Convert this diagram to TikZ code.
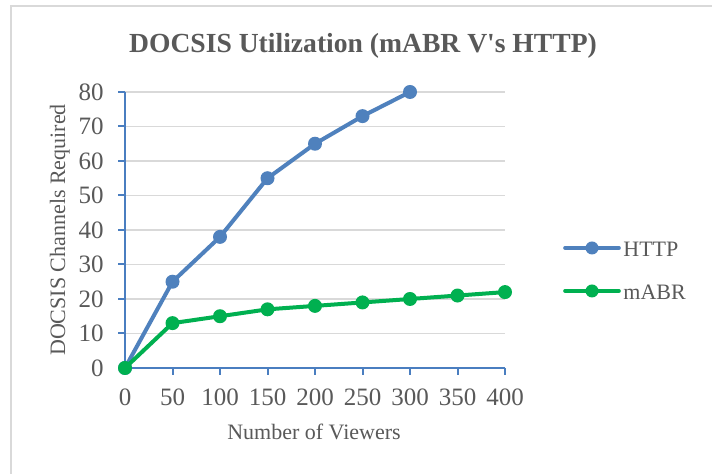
\documentclass[tikz,border=0pt]{standalone}
\usepackage{fontspec}
\setmainfont{Liberation Serif}[Ligatures=TeXOff]
\definecolor{httpblue}{HTML}{4F81BD}
\definecolor{mabrgreen}{HTML}{00B050}
\definecolor{axisblue}{HTML}{4A7EC0}
\definecolor{gridgrey}{HTML}{D9D9D9}
\definecolor{framegrey}{HTML}{D9D9D9}
\definecolor{textgrey}{HTML}{595959}
\begin{document}
\begin{tikzpicture}[x=0.5pt,y=-0.5pt,
  frameline/.style={draw=framegrey,line width=1.1pt},
  gridline/.style={draw=gridgrey,line width=0.75pt},
  axisline/.style={draw=axisblue,line width=1pt},
  ticklabel/.style={text=textgrey,font=\fontsize{12.5}{14}\selectfont,inner sep=0pt},
  axistitle/.style={text=textgrey,font=\fontsize{11}{13}\selectfont,inner sep=0pt},
  charttitle/.style={text=textgrey,font=\fontsize{13.8}{16}\selectfont\bfseries,inner sep=0pt},
  legendtext/.style={text=textgrey,font=\fontsize{11}{13}\selectfont,inner sep=0pt,anchor=base west},
  series/.style={line width=2pt,line cap=round,line join=round},
  legendline/.style={line width=1.8pt,line cap=round},
  marker/.style={circle,inner sep=0pt,minimum size=7pt},
  legendmarker/.style={circle,inner sep=0pt,minimum size=6.5pt}]
\useasboundingbox (0,0) rectangle (712,474);
\clip (0,0) rectangle (712,474);
\fill[white] (0,0) rectangle (712,474);

% outer chart frame
\draw[frameline] (11,490) -- (11,6) -- (730,6);

% title (straight apostrophe)
\node[charttitle,anchor=base] (title) at (363,53) {DOCSIS Utilization (mABR V's HTTP)};

% horizontal gridlines and y tick labels
\foreach \v in {10,20,...,80} {
  \draw[gridline] ({125},{368-3.45*\v}) -- ({505},{368-3.45*\v});
}
\foreach \v in {0,10,...,80} {
  \draw[axisline] ({118},{368-3.45*\v}) -- ({125},{368-3.45*\v});
  \node[ticklabel,anchor=east] (yl\v) at ({104},{368-3.45*\v}) {\v};
}

% x ticks and labels
\foreach \v in {0,50,...,400} {
  \draw[axisline] ({125+0.95*\v},368) -- ({125+0.95*\v},375);
  \node[ticklabel] (xl\v) at ({125+0.95*\v},397) {\v};
}

% axes
\coordinate (origin) at (125,368);
\coordinate (ytop) at (125,92);
\coordinate (xend) at (505,368);
\draw[axisline] (ytop) -- (origin) -- (xend);

% axis titles
\node[axistitle,anchor=base] (xtitle) at (314,440) {Number of Viewers};
\node[axistitle,anchor=base,rotate=90] (ytitle) at (65,230) {DOCSIS Channels Required};

% data points
\foreach \n/\vx/\vy in {0/0/0,1/50/25,2/100/38,3/150/55,4/200/65,5/250/73,6/300/80}
  \coordinate (h\n) at ({125+0.95*\vx},{368-3.45*\vy});
\foreach \n/\vx/\vy in {0/0/0,1/50/13,2/100/15,3/150/17,4/200/18,5/250/19,6/300/20,7/350/21,8/400/22}
  \coordinate (m\n) at ({125+0.95*\vx},{368-3.45*\vy});

% HTTP series
\draw[series,httpblue] (h0) -- (h1) -- (h2) -- (h3) -- (h4) -- (h5) -- (h6);
\foreach \n in {0,...,6}
  \node[marker,fill=httpblue] (hp\n) at (h\n) {};

% mABR series
\draw[series,mabrgreen] (m0) -- (m1) -- (m2) -- (m3) -- (m4) -- (m5) -- (m6) -- (m7) -- (m8);
\foreach \n in {0,...,8}
  \node[marker,fill=mabrgreen] (mp\n) at (m\n) {};

% legend
\coordinate (lh1) at (565,248);
\coordinate (lh2) at (619,248);
\coordinate (lm1) at (565,291);
\coordinate (lm2) at (619,291);
\draw[legendline,httpblue] (lh1) -- (lh2);
\node[legendmarker,fill=httpblue] (lhm) at (592,248) {};
\node[legendtext] (lht) at (623,257) {HTTP};
\draw[legendline,mabrgreen] (lm1) -- (lm2);
\node[legendmarker,fill=mabrgreen] (lmm) at (592,291) {};
\node[legendtext] (lmt) at (623,300) {mABR};
\end{tikzpicture}
\end{document}
